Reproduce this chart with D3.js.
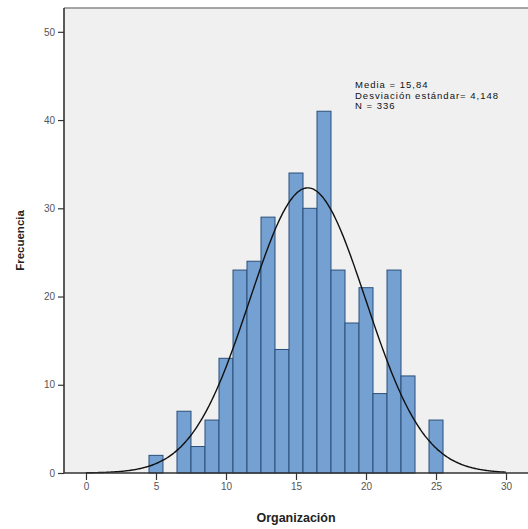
<!DOCTYPE html>
<html>
<head>
<meta charset="utf-8">
<script src="https://cdn.jsdelivr.net/npm/d3@7"></script>
<style>
  html, body { margin: 0; padding: 0; background: #ffffff; }
  svg { display: block; }
</style>
</head>
<body>
<svg id="chart" width="528" height="529"></svg>
<script>
// Histogram of "Organización" scores with fitted normal curve
const scores      = [5, 7, 8, 9, 10, 11, 12, 13, 14, 15, 16, 17, 18, 19, 20, 21, 22, 23, 25];
const frequencies = [2, 7, 3, 6, 13, 23, 24, 29, 14, 34, 30, 41, 23, 17, 21, 9, 23, 11, 6];
const xTicks = [0, 5, 10, 15, 20, 25, 30];
const yTicks = [0, 10, 20, 30, 40, 50];
const mean = 15.84;
const stdDev = 4.148;
const total = 336;
const statLines = ["Media = 15,84", "Desviación estándar= 4,148", "N = 336"];

const svg = d3.select("#chart");
const plotLeft = 64, plotRight = 528, plotTop = 8, plotBottom = 473;

const x = d3.scaleLinear().domain([-1.57, 31.57]).range([plotLeft, plotRight]);
const y = d3.scaleLinear().domain([0, 52.7]).range([plotBottom, plotTop]);

// plot background
svg.append("rect")
  .attr("x", plotLeft).attr("y", plotTop)
  .attr("width", plotRight - plotLeft).attr("height", plotBottom - plotTop)
  .attr("fill", "#f0f0f0");

// bars (bin width 1)
svg.append("g").selectAll("rect")
  .data(scores.map((s, i) => ({ s, f: frequencies[i] })))
  .join("rect")
  .attr("x", d => x(d.s - 0.5))
  .attr("width", d => x(d.s + 0.5) - x(d.s - 0.5))
  .attr("y", d => y(d.f))
  .attr("height", d => y(0) - y(d.f))
  .attr("fill", "#74a0d2")
  .attr("stroke", "#2b4f7a")
  .attr("stroke-width", 1);

// normal curve scaled to the histogram counts
const pdf = v => total / (stdDev * Math.sqrt(2 * Math.PI)) * Math.exp(-0.5 * ((v - mean) / stdDev) ** 2);
const curvePts = d3.range(0, 30.001, 0.1).map(v => [v, pdf(v)]);
svg.append("path")
  .datum(curvePts)
  .attr("fill", "none")
  .attr("stroke", "#111111")
  .attr("stroke-width", 1.4)
  .attr("d", d3.line().x(d => x(d[0])).y(d => y(d[1])).curve(d3.curveBasis));

// frame: top edge
svg.append("line")
  .attr("x1", plotLeft).attr("x2", plotRight).attr("y1", plotTop).attr("y2", plotTop)
  .attr("stroke", "#8a8a8a").attr("stroke-width", 1.5);

// axes
const yAxis = svg.append("g")
  .attr("transform", `translate(${plotLeft},0)`)
  .call(d3.axisLeft(y).tickValues(yTicks).tickSize(6).tickPadding(3).tickSizeOuter(0));
const xAxis = svg.append("g")
  .attr("transform", `translate(0,${plotBottom})`)
  .call(d3.axisBottom(x).tickValues(xTicks).tickSize(7).tickPadding(3).tickSizeOuter(0));

[yAxis, xAxis].forEach(g => {
  g.select(".domain").attr("stroke", "#333333").attr("stroke-width", 1.6);
  g.selectAll(".tick line").attr("stroke", "#333333").attr("stroke-width", 1.2);
  g.selectAll(".tick text")
    .attr("fill", "#555555")
    .attr("font-family", "Liberation Sans, Arial, sans-serif")
    .attr("font-size", 10);
});
// domain lines span the full plot frame
yAxis.select(".domain").attr("d", `M0,${plotTop}V${plotBottom}`);
xAxis.select(".domain").attr("d", `M${plotLeft},0H${plotRight}`);

// axis titles
svg.append("text")
  .attr("x", (plotLeft + plotRight) / 2).attr("y", 522)
  .attr("text-anchor", "middle")
  .attr("font-family", "Liberation Sans, Arial, sans-serif")
  .attr("font-weight", "bold").attr("font-size", 12.5)
  .attr("fill", "#222222")
  .text("Organización");

svg.append("text")
  .attr("transform", `translate(24,${(plotTop + plotBottom) / 2}) rotate(-90)`)
  .attr("text-anchor", "middle")
  .attr("font-family", "Liberation Sans, Arial, sans-serif")
  .attr("font-weight", "bold").attr("font-size", 11.5)
  .attr("fill", "#222222")
  .text("Frecuencia");

// statistics box text
svg.append("g").selectAll("text")
  .data(statLines)
  .join("text")
  .attr("x", 355)
  .attr("y", (d, i) => 88 + i * 10.6)
  .attr("font-family", "Liberation Sans, Arial, sans-serif")
  .attr("font-size", 9.5)
  .attr("letter-spacing", 1)
  .attr("fill", "#111111")
  .text(d => d);
</script>
</body>
</html>
